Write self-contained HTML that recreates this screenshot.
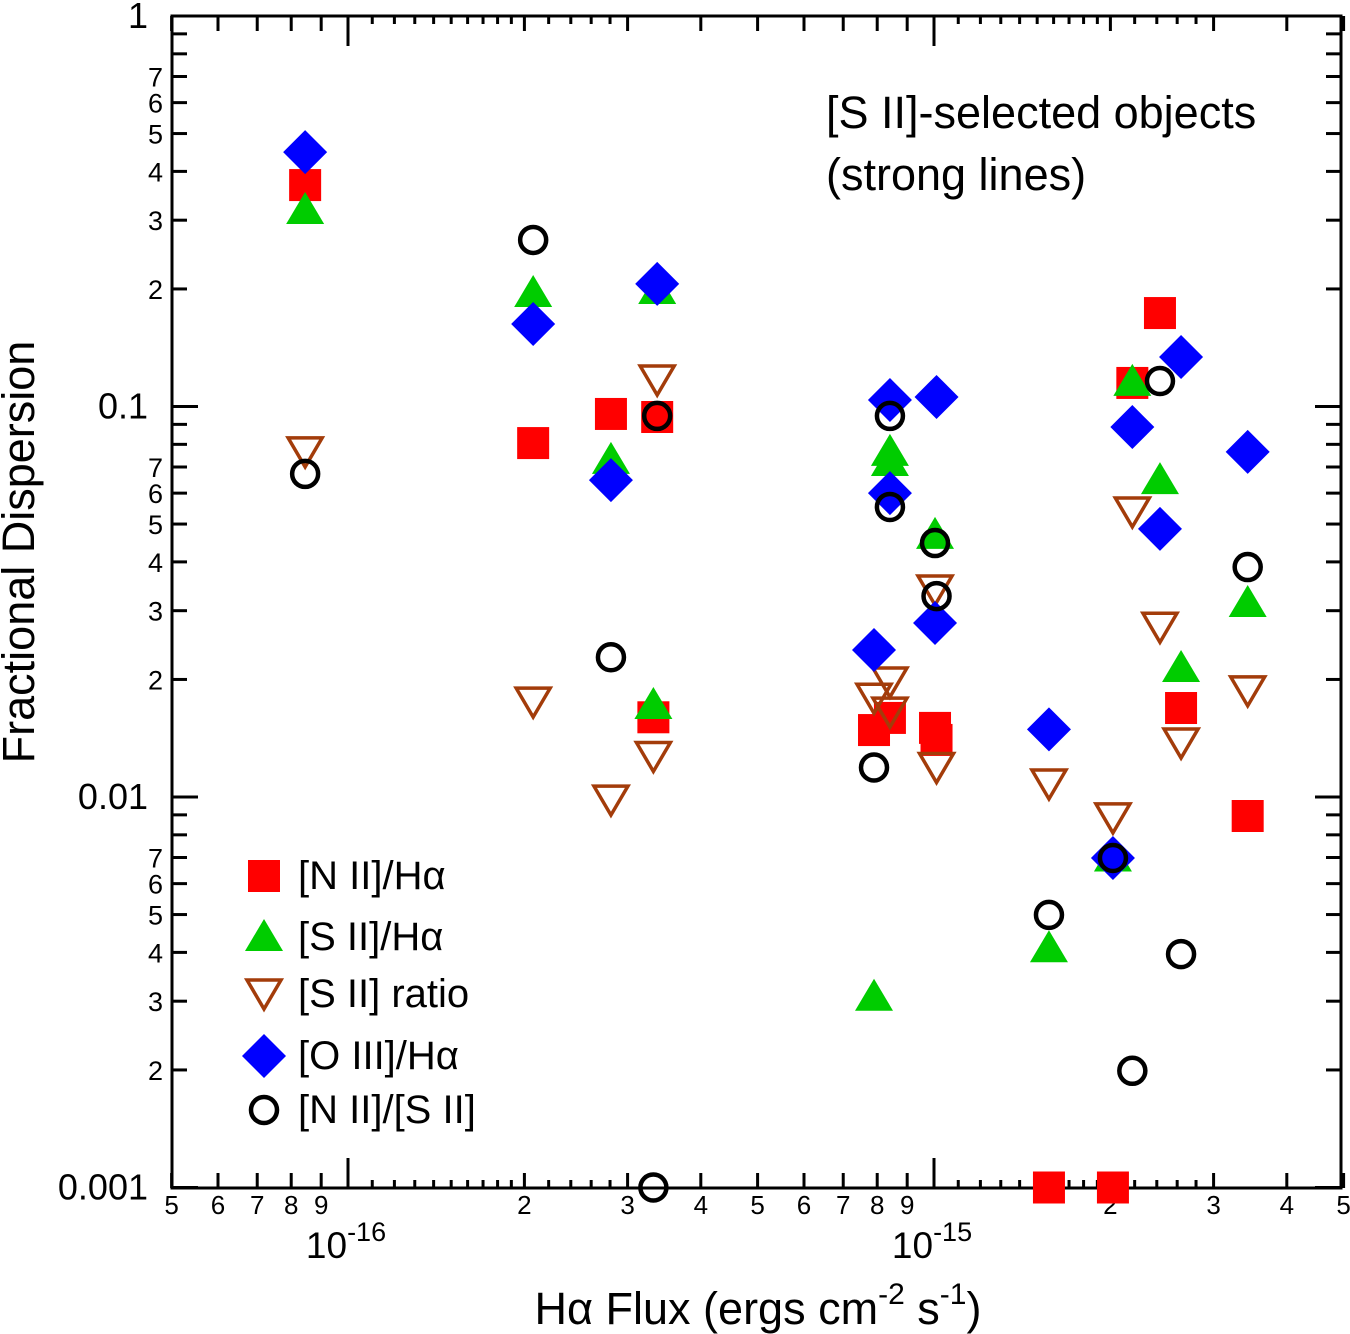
<!DOCTYPE html>
<html><head><meta charset="utf-8"><style>
body{margin:0;background:#fff}
svg{display:block;font-family:"Liberation Sans",sans-serif}
</style></head><body>
<svg id="chart" width="1350" height="1334" viewBox="0 0 1350 1334" xmlns="http://www.w3.org/2000/svg">
<g id="axes"></g>
<g id="marks"></g>
<text x="0" y="0" transform="translate(34,552) rotate(-90)" font-size="45" text-anchor="middle">Fractional Dispersion</text>
<text x="758" y="1324" font-size="45" text-anchor="middle">Hα Flux (ergs cm<tspan dy="-20" font-size="30">-2</tspan><tspan dy="20"> s</tspan><tspan dy="-20" font-size="30">-1</tspan><tspan dy="20">)</tspan></text>
<text x="826" y="128" font-size="45">[S II]-selected objects</text>
<text x="826" y="190" font-size="45">(strong lines)</text>
<g id="legend"></g>
</svg>
<script>
const NS="http://www.w3.org/2000/svg";
const xFlux_nii=[8.45e-17,2.07e-16,2.81e-16,3.37e-16,3.32e-16,7.90e-16,8.41e-16,1.004e-15,1.01e-15,1.571e-15,2.02e-15,2.18e-15,2.43e-15,2.64e-15,3.43e-15];
const yNII=[0.369,0.0806,0.0957,0.094,0.016,0.01484,0.01594,0.01503,0.0140,0.001,0.001,0.1149,0.1735,0.0169,0.00894];
const xFlux_sii=[8.45e-17,2.07e-16,2.81e-16,3.37e-16,3.32e-16,7.90e-16,8.41e-16,8.41e-16,1.004e-15,1.571e-15,2.02e-15,2.18e-15,2.43e-15,2.64e-15,3.43e-15];
const ySII=[0.3185,0.1953,0.073,0.1987,0.0172,0.00308,0.0765,0.0721,0.0469,0.0041,0.007,0.1156,0.0648,0.0214,0.0314];
const xFlux_rat=[8.45e-17,2.07e-16,2.81e-16,3.37e-16,3.32e-16,7.90e-16,8.41e-16,8.41e-16,1.004e-15,1.01e-15,1.571e-15,2.02e-15,2.18e-15,2.43e-15,2.64e-15,3.43e-15];
const yRatio=[0.0765,0.0175,0.00982,0.1169,0.0127,0.0179,0.0197,0.0165,0.0339,0.0119,0.0108,0.00884,0.0537,0.0272,0.01375,0.0187];
const xFlux_oiii=[8.45e-17,2.07e-16,2.81e-16,3.37e-16,7.90e-16,8.41e-16,8.41e-16,1.01e-15,1.004e-15,1.571e-15,2.02e-15,2.18e-15,2.43e-15,2.64e-15,3.43e-15];
const yOIII=[0.448,0.1627,0.0648,0.206,0.0238,0.1039,0.060,0.1058,0.0279,0.0149,0.00698,0.0886,0.0486,0.1339,0.0765];
const xFlux_circ=[8.45e-17,2.07e-16,2.81e-16,3.37e-16,3.32e-16,7.90e-16,8.41e-16,8.41e-16,1.004e-15,1.01e-15,1.571e-15,2.02e-15,2.18e-15,2.43e-15,2.64e-15,3.43e-15];
const yCirc=[0.0672,0.267,0.0228,0.0946,0.001,0.0119,0.0946,0.0553,0.0447,0.0327,0.00499,0.00698,0.00199,0.1162,0.00396,0.0388];
const yDecadeLabels=["1","0.1","0.01","0.001"];

const L=172,R=1341,T=16,B=1188;
const xs=f=>348+586*Math.log10(f/1e-16);
const ys=v=>16+390.5*(-Math.log10(v));

function mk(tag,attrs,parent){const e=document.createElementNS(NS,tag);for(const k in attrs)e.setAttribute(k,attrs[k]);parent.appendChild(e);return e;}
const axes=document.getElementById('axes');
const frame=mk('rect',{x:L,y:T,width:R-L,height:B-T,fill:'none',stroke:'#000','stroke-width':3},axes);



function xtick(f,len,label){
  const x=xs(f);
  const a=mk('line',{x1:x,x2:x,y1:B,y2:B-len,stroke:'#000','stroke-width':3},axes);
  
  
  const b=mk('line',{x1:x,x2:x,y1:T,y2:T+len,stroke:'#000','stroke-width':3},axes);
  
  
  if(label){const t=mk('text',{x:x,y:1214,'font-size':26,'text-anchor':'middle'},axes);t.textContent=label;
    
    }
}
[1e-17,1e-16,1e-15].forEach(d=>{
  for(let m=1;m<10;m++){const f=m*d; if(f<5e-17-1e-30||f>5.01e-15)continue;
    if(m===1){xtick(f,30,null);}
    else xtick(f,15,String(m));
  }
  if(d>=1e-16){
    for(let k=1;k<10;k++){const f=(1+k/10)*d; if(f<5.01e-15) xtick(f,8,null);}
    for(let k=1;k<5;k++){const f=(2+k/5)*d; if(f<5.01e-15) xtick(f,8,null);}
  }
});
[[1e-16,"16"],[1e-15,"15"]].forEach(([f,e])=>{
  const t=mk('text',{x:xs(f)-2,y:1258,'font-size':37,'text-anchor':'middle'},axes);
  t.innerHTML='10<tspan dy="-17" font-size="27">-'+e+'</tspan>';
  
  
});
[1,0.1,0.01,0.001].forEach((d,i)=>{
  const y=ys(d);
  [[L,1],[R,-1]].forEach(([x0,s])=>{
    const l=mk('line',{x1:x0,x2:x0+s*26,y1:y,y2:y,stroke:'#000','stroke-width':3},axes);
    
    
  });
  const t=mk('text',{x:148,y:y+12,'font-size':36,'text-anchor':'end'},axes);
  t.textContent=yDecadeLabels[i];
  
  
  if(d>0.001){
    for(let m=2;m<10;m++){const yy=ys(d*m/10);
      [[L,1],[R,-1]].forEach(([x0,s])=>{
        const l=mk('line',{x1:x0,x2:x0+s*15,y1:yy,y2:yy,stroke:'#000','stroke-width':3},axes);
        
        
      });
      if(m<=7){const t2=mk('text',{x:163,y:yy+10,'font-size':27,'text-anchor':'end'},axes);t2.textContent=String(m);
        
        }
    }
  }
});

function square(g,x,y){return mk('rect',{x:x-16,y:y-16,width:32,height:32,fill:'#f00'},g);}
function tri(g,x,y){return mk('polygon',{points:`${x},${y-18} ${x+19},${y+14} ${x-19},${y+14}`,fill:'#0c0'},g);}
function itri(g,x,y){return mk('polygon',{points:`${x-17},${y-14} ${x+17},${y-14} ${x},${y+15}`,fill:'none',stroke:'#a33c0a','stroke-width':3.5},g);}
function diam(g,x,y){return mk('polygon',{points:`${x},${y-22} ${x+22},${y} ${x},${y+22} ${x-22},${y}`,fill:'#00f'},g);}
function circ(g,x,y){return mk('circle',{cx:x,cy:y,r:13,fill:'none',stroke:'#000','stroke-width':4.5},g);}
const marks=document.getElementById('marks');
const series=[[xFlux_nii,yNII,square,'nii-ha'],[xFlux_sii,ySII,tri,'sii-ha'],[xFlux_rat,yRatio,itri,'sii-ratio'],[xFlux_oiii,yOIII,diam,'oiii-ha'],[xFlux_circ,yCirc,circ,'nii-sii']];
series.forEach(([xa,ya,fn,nm])=>{
  const g=mk('g',{},marks);
  
  
  xa.forEach((f,i)=>{const e=fn(g,xs(f),ys(ya[i]));
    
    });
});
const lg=document.getElementById('legend');
const entries=[[square,'[N II]/Hα',876],[tri,'[S II]/Hα',937],[itri,'[S II] ratio',994],[diam,'[O III]/Hα',1056],[circ,'[N II]/[S II]',1110]];
entries.forEach(([fn,lab,y])=>{
  const g=mk('g',{},lg);
  
  
  fn(g,264,y);
  const t=mk('text',{x:298,y:y+13,'font-size':40},g);t.textContent=lab;
});
</script>
</body></html>
